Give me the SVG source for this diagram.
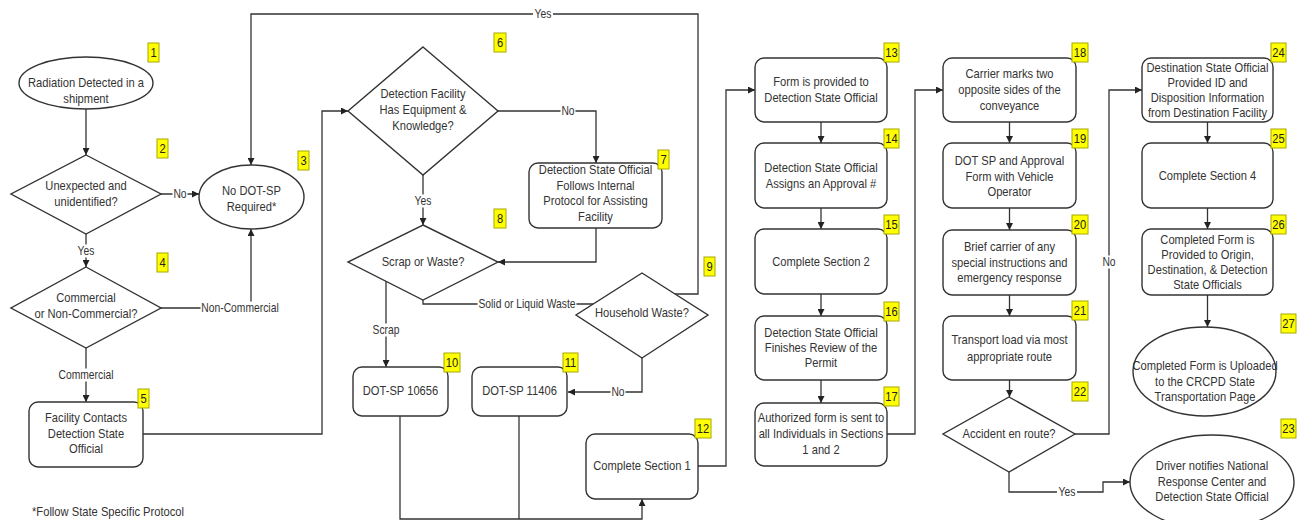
<svg xmlns="http://www.w3.org/2000/svg" width="1303" height="520" viewBox="0 0 1303 520">
<defs>
<style>
.n{fill:#fff;stroke:#333;stroke-width:1.4}
.e{fill:none;stroke:#333;stroke-width:1.3}
.t{font-family:"Liberation Sans",Arial,sans-serif;font-size:13px;fill:#333;text-anchor:middle}
.l{font-family:"Liberation Sans",Arial,sans-serif;font-size:12px;fill:#333;text-anchor:middle}
.lb{fill:#fff;stroke:none}
.b{fill:#ffff00;stroke:#a8a800;stroke-width:1}
.bt{font-family:"Liberation Sans",Arial,sans-serif;font-size:13px;fill:#222;text-anchor:middle}
</style>
<marker id="a" viewBox="0 0 10 10" refX="10" refY="5" markerWidth="7" markerHeight="7" markerUnits="userSpaceOnUse" orient="auto"><path d="M0,0 L10,5 L0,10 z" fill="#222"/></marker>
</defs>
<rect width="1303" height="520" fill="#fff"/>

<g id="connectors">
<path class="e" d="M86,109 V155" marker-end="url(#a)"/>
<path class="e" d="M161,194 H199" marker-end="url(#a)"/>
<path class="e" d="M86,234 V267" marker-end="url(#a)"/>
<path class="e" d="M161,308 H251 V229" marker-end="url(#a)"/>
<path class="e" d="M86,348 V402" marker-end="url(#a)"/>
<path class="e" d="M143,434 H322 V111 H348" marker-end="url(#a)"/>
<path class="e" d="M498,111 H596 V163" marker-end="url(#a)"/>
<path class="e" d="M423,175 V225" marker-end="url(#a)"/>
<path class="e" d="M596,228 V262 H498" marker-end="url(#a)"/>
<path class="e" d="M386,281 V367" marker-end="url(#a)"/>
<path class="e" d="M423,300 V304 H593"/>
<path class="e" d="M675,294 H698 V14 H251 V165" marker-end="url(#a)"/>
<path class="e" d="M642,358 V392 H568" marker-end="url(#a)"/>
<path class="e" d="M400,416 V519 H642 V499" marker-end="url(#a)"/>
<path class="e" d="M519,416 V519"/>
<path class="e" d="M698,466 H726 V90 H755" marker-end="url(#a)"/>
<path class="e" d="M821,122 V143" marker-end="url(#a)"/>
<path class="e" d="M821,208 V229" marker-end="url(#a)"/>
<path class="e" d="M821,294 V316" marker-end="url(#a)"/>
<path class="e" d="M821,380 V403" marker-end="url(#a)"/>
<path class="e" d="M887,434 H915 V90 H943" marker-end="url(#a)"/>
<path class="e" d="M1009.5,122 V143" marker-end="url(#a)"/>
<path class="e" d="M1009.5,208 V230" marker-end="url(#a)"/>
<path class="e" d="M1009.5,295 V316" marker-end="url(#a)"/>
<path class="e" d="M1009.5,380 V397" marker-end="url(#a)"/>
<path class="e" d="M1075,434 H1109 V90 H1142" marker-end="url(#a)"/>
<path class="e" d="M1009,472 V492 H1103 V482 H1130" marker-end="url(#a)"/>
<path class="e" d="M1207.5,122 V143" marker-end="url(#a)"/>
<path class="e" d="M1207.5,208 V229" marker-end="url(#a)"/>
<path class="e" d="M1207.5,295 V327" marker-end="url(#a)"/>
<rect class="lb" x="172.5" y="187.5" width="15" height="13"/><text class="l" transform="translate(180 0) scale(.86 1)" x="0" y="198">No</text>
<rect class="lb" x="76" y="244.5" width="20" height="13"/><text class="l" transform="translate(86 0) scale(.86 1)" x="0" y="255">Yes</text>
<rect class="lb" x="200.5" y="301.5" width="79" height="13"/><text class="l" transform="translate(240 0) scale(.86 1)" x="0" y="312">Non-Commercial</text>
<rect class="lb" x="57.5" y="368.5" width="57" height="13"/><text class="l" transform="translate(86 0) scale(.86 1)" x="0" y="379">Commercial</text>
<rect class="lb" x="533" y="7.5" width="20" height="13"/><text class="l" transform="translate(543 0) scale(.86 1)" x="0" y="18">Yes</text>
<rect class="lb" x="560.5" y="104.5" width="15" height="13"/><text class="l" transform="translate(568 0) scale(.86 1)" x="0" y="115">No</text>
<rect class="lb" x="413" y="194.5" width="20" height="13"/><text class="l" transform="translate(423 0) scale(.86 1)" x="0" y="205">Yes</text>
<rect class="lb" x="371.5" y="323.5" width="29" height="13"/><text class="l" transform="translate(386 0) scale(.86 1)" x="0" y="334">Scrap</text>
<rect class="lb" x="477.5" y="297.5" width="99" height="13"/><text class="l" transform="translate(527 0) scale(.86 1)" x="0" y="308">Solid or Liquid Waste</text>
<rect class="lb" x="610.5" y="385.5" width="15" height="13"/><text class="l" transform="translate(618 0) scale(.86 1)" x="0" y="396">No</text>
<rect class="lb" x="1101.5" y="255.5" width="15" height="13"/><text class="l" transform="translate(1109 0) scale(.86 1)" x="0" y="266">No</text>
<rect class="lb" x="1057" y="485.5" width="20" height="13"/><text class="l" transform="translate(1067 0) scale(.86 1)" x="0" y="496">Yes</text>
</g>

<g id="n1"><ellipse class="n" cx="86" cy="83" rx="67" ry="26"/>
<text class="t" transform="translate(86 0) scale(.86 1)"><tspan x="0" y="87.5">Radiation Detected in a</tspan><tspan x="0" y="103.5">shipment</tspan></text>
<rect class="b" x="148" y="43" width="11" height="19"/><text class="bt" transform="translate(153.5 0) scale(.86 1)" x="0" y="57">1</text></g>

<g id="n2"><polygon class="n" points="86,155 161,194 86,234 11,194"/>
<text class="t" transform="translate(86 0) scale(.86 1)"><tspan x="0" y="190">Unexpected and</tspan><tspan x="0" y="206.5">unidentified?</tspan></text>
<rect class="b" x="157" y="139" width="11" height="19"/><text class="bt" transform="translate(162.5 0) scale(.86 1)" x="0" y="153">2</text></g>

<g id="n3"><ellipse class="n" cx="251.5" cy="197" rx="52.5" ry="32"/>
<text class="t" transform="translate(251.5 0) scale(.86 1)"><tspan x="0" y="195.5">No DOT-SP</tspan><tspan x="0" y="211.5">Required*</tspan></text>
<rect class="b" x="298" y="151" width="11" height="19"/><text class="bt" transform="translate(303.5 0) scale(.86 1)" x="0" y="165">3</text></g>

<g id="n4"><polygon class="n" points="86,267 161,308 86,348 11,308"/>
<text class="t" transform="translate(86 0) scale(.86 1)"><tspan x="0" y="302">Commercial</tspan><tspan x="0" y="318">or Non-Commercial?</tspan></text>
<rect class="b" x="157" y="253" width="11" height="19"/><text class="bt" transform="translate(162.5 0) scale(.86 1)" x="0" y="267">4</text></g>

<g id="n5"><rect class="n" x="29" y="402" width="114" height="65" rx="9"/>
<text class="t" transform="translate(86 0) scale(.86 1)"><tspan x="0" y="422.5">Facility Contacts</tspan><tspan x="0" y="438.5">Detection State</tspan><tspan x="0" y="453.5">Official</tspan></text>
<rect class="b" x="138" y="389" width="11" height="19"/><text class="bt" transform="translate(143.5 0) scale(.86 1)" x="0" y="403">5</text></g>

<g id="n6"><polygon class="n" points="423,47 498,111 423,175 348,111"/>
<text class="t" transform="translate(423 0) scale(.86 1)"><tspan x="0" y="98.5">Detection Facility</tspan><tspan x="0" y="114.5">Has Equipment &amp;</tspan><tspan x="0" y="130.5">Knowledge?</tspan></text>
<rect class="b" x="494" y="33" width="12" height="19"/><text class="bt" transform="translate(500 0) scale(.86 1)" x="0" y="47">6</text></g>

<g id="n7"><rect class="n" x="529" y="163" width="133" height="65" rx="9"/>
<text class="t" transform="translate(595.5 0) scale(.86 1)"><tspan x="0" y="174.5">Detection State Official</tspan><tspan x="0" y="190">Follows Internal</tspan><tspan x="0" y="205.5">Protocol for Assisting</tspan><tspan x="0" y="221">Facility</tspan></text>
<rect class="b" x="658" y="150" width="11" height="19"/><text class="bt" transform="translate(663.5 0) scale(.86 1)" x="0" y="164">7</text></g>

<g id="n8"><polygon class="n" points="423,225 498,262 423,300 348,262"/>
<text class="t" transform="translate(423 0) scale(.86 1)" x="0" y="266.5">Scrap or Waste?</text>
<rect class="b" x="494" y="209" width="12" height="19"/><text class="bt" transform="translate(500 0) scale(.86 1)" x="0" y="223">8</text></g>

<g id="n9"><polygon class="n" points="642,273 708,315 642,358 576,315"/>
<text class="t" transform="translate(642 0) scale(.86 1)" x="0" y="317.5">Household Waste?</text>
<rect class="b" x="704" y="257" width="11" height="19"/><text class="bt" transform="translate(709.5 0) scale(.86 1)" x="0" y="271">9</text></g>

<g id="n10"><rect class="n" x="353" y="367" width="95" height="49" rx="9"/>
<text class="t" transform="translate(400.5 0) scale(.86 1)" x="0" y="395.5">DOT-SP 10656</text>
<rect class="b" x="444" y="353" width="16" height="19"/><text class="bt" transform="translate(452 0) scale(.86 1)" x="0" y="367">10</text></g>

<g id="n11"><rect class="n" x="472" y="367" width="95" height="49" rx="9"/>
<text class="t" transform="translate(519.5 0) scale(.86 1)" x="0" y="395.5">DOT-SP 11406</text>
<rect class="b" x="563" y="353" width="15" height="19"/><text class="bt" transform="translate(570.5 0) scale(.86 1)" x="0" y="367">11</text></g>

<g id="n12"><rect class="n" x="586" y="434" width="112" height="65" rx="9"/>
<text class="t" transform="translate(642 0) scale(.86 1)" x="0" y="470.5">Complete Section 1</text>
<rect class="b" x="695" y="419" width="16" height="19"/><text class="bt" transform="translate(703 0) scale(.86 1)" x="0" y="433">12</text></g>

<g id="n13"><rect class="n" x="755" y="58" width="132" height="64" rx="9"/>
<text class="t" transform="translate(821 0) scale(.86 1)"><tspan x="0" y="86.5">Form is provided to</tspan><tspan x="0" y="102.5">Detection State Official</tspan></text>
<rect class="b" x="884" y="43" width="15" height="19"/><text class="bt" transform="translate(891.5 0) scale(.86 1)" x="0" y="57">13</text></g>

<g id="n14"><rect class="n" x="755" y="143" width="132" height="65" rx="9"/>
<text class="t" transform="translate(821 0) scale(.86 1)"><tspan x="0" y="172.5">Detection State Official</tspan><tspan x="0" y="188.5">Assigns an Approval #</tspan></text>
<rect class="b" x="884" y="129" width="15" height="19"/><text class="bt" transform="translate(891.5 0) scale(.86 1)" x="0" y="143">14</text></g>

<g id="n15"><rect class="n" x="755" y="229" width="132" height="65" rx="9"/>
<text class="t" transform="translate(821 0) scale(.86 1)" x="0" y="266">Complete Section 2</text>
<rect class="b" x="884" y="215" width="15" height="19"/><text class="bt" transform="translate(891.5 0) scale(.86 1)" x="0" y="229">15</text></g>

<g id="n16"><rect class="n" x="755" y="316" width="132" height="64" rx="9"/>
<text class="t" transform="translate(821 0) scale(.86 1)"><tspan x="0" y="337.5">Detection State Official</tspan><tspan x="0" y="352.5">Finishes Review of the</tspan><tspan x="0" y="367.5">Permit</tspan></text>
<rect class="b" x="884" y="302" width="15" height="19"/><text class="bt" transform="translate(891.5 0) scale(.86 1)" x="0" y="316">16</text></g>

<g id="n17"><rect class="n" x="755" y="403" width="132" height="63" rx="9"/>
<text class="t" transform="translate(821 0) scale(.86 1)"><tspan x="0" y="422.5">Authorized form is sent to</tspan><tspan x="0" y="438.5">all Individuals in Sections</tspan><tspan x="0" y="454.5">1 and 2</tspan></text>
<rect class="b" x="884" y="387" width="15" height="19"/><text class="bt" transform="translate(891.5 0) scale(.86 1)" x="0" y="401">17</text></g>

<g id="n18"><rect class="n" x="943" y="58" width="133" height="64" rx="9"/>
<text class="t" transform="translate(1009.5 0) scale(.86 1)"><tspan x="0" y="78.5">Carrier marks two</tspan><tspan x="0" y="94.5">opposite sides of the</tspan><tspan x="0" y="110.5">conveyance</tspan></text>
<rect class="b" x="1072" y="43" width="16" height="19"/><text class="bt" transform="translate(1080 0) scale(.86 1)" x="0" y="57">18</text></g>

<g id="n19"><rect class="n" x="943" y="143" width="133" height="65" rx="9"/>
<text class="t" transform="translate(1009.5 0) scale(.86 1)"><tspan x="0" y="165.5">DOT SP and Approval</tspan><tspan x="0" y="181.5">Form with Vehicle</tspan><tspan x="0" y="196.5">Operator</tspan></text>
<rect class="b" x="1072" y="129" width="16" height="19"/><text class="bt" transform="translate(1080 0) scale(.86 1)" x="0" y="143">19</text></g>

<g id="n20"><rect class="n" x="943" y="230" width="133" height="65" rx="9"/>
<text class="t" transform="translate(1009.5 0) scale(.86 1)"><tspan x="0" y="251.5">Brief carrier of any</tspan><tspan x="0" y="267.5">special instructions and</tspan><tspan x="0" y="282.5">emergency response</tspan></text>
<rect class="b" x="1072" y="215" width="16" height="19"/><text class="bt" transform="translate(1080 0) scale(.86 1)" x="0" y="229">20</text></g>

<g id="n21"><rect class="n" x="943" y="316" width="133" height="64" rx="9"/>
<text class="t" transform="translate(1009.5 0) scale(.86 1)"><tspan x="0" y="344.5">Transport load via most</tspan><tspan x="0" y="361">appropriate route</tspan></text>
<rect class="b" x="1072" y="301" width="16" height="19"/><text class="bt" transform="translate(1080 0) scale(.86 1)" x="0" y="315">21</text></g>

<g id="n22"><polygon class="n" points="1009,397 1075,434 1009,472 943,434"/>
<text class="t" transform="translate(1009 0) scale(.86 1)" x="0" y="438.5">Accident en route?</text>
<rect class="b" x="1072" y="382" width="16" height="19"/><text class="bt" transform="translate(1080 0) scale(.86 1)" x="0" y="396">22</text></g>

<g id="n23"><ellipse class="n" cx="1212" cy="482" rx="82" ry="47"/>
<text class="t" transform="translate(1212 0) scale(.86 1)"><tspan x="0" y="470.5">Driver notifies National</tspan><tspan x="0" y="486.5">Response Center and</tspan><tspan x="0" y="501.5">Detection State Official</tspan></text>
<rect class="b" x="1281" y="419" width="15" height="19"/><text class="bt" transform="translate(1288.5 0) scale(.86 1)" x="0" y="433">23</text></g>

<g id="n24"><rect class="n" x="1142" y="58" width="131" height="64" rx="9"/>
<text class="t" transform="translate(1207.5 0) scale(.86 1)"><tspan x="0" y="72.5">Destination State Official</tspan><tspan x="0" y="87.5">Provided ID and</tspan><tspan x="0" y="102.5">Disposition Information</tspan><tspan x="0" y="117.5">from Destination Facility</tspan></text>
<rect class="b" x="1271" y="43" width="15" height="19"/><text class="bt" transform="translate(1278.5 0) scale(.86 1)" x="0" y="57">24</text></g>

<g id="n25"><rect class="n" x="1142" y="143" width="131" height="65" rx="9"/>
<text class="t" transform="translate(1207.5 0) scale(.86 1)" x="0" y="180.5">Complete Section 4</text>
<rect class="b" x="1271" y="129" width="15" height="19"/><text class="bt" transform="translate(1278.5 0) scale(.86 1)" x="0" y="143">25</text></g>

<g id="n26"><rect class="n" x="1142" y="229" width="131" height="66" rx="9"/>
<text class="t" transform="translate(1207.5 0) scale(.86 1)"><tspan x="0" y="244.5">Completed Form is</tspan><tspan x="0" y="259.5">Provided to Origin,</tspan><tspan x="0" y="274.5">Destination, &amp; Detection</tspan><tspan x="0" y="289.5">State Officials</tspan></text>
<rect class="b" x="1271" y="215" width="15" height="19"/><text class="bt" transform="translate(1278.5 0) scale(.86 1)" x="0" y="229">26</text></g>

<g id="n27"><ellipse class="n" cx="1204.5" cy="371.5" rx="71.5" ry="44.5"/>
<text class="t" transform="translate(1205 0) scale(.86 1)"><tspan x="0" y="370.5">Completed Form is Uploaded</tspan><tspan x="0" y="386.5">to the CRCPD State</tspan><tspan x="0" y="401.5">Transportation Page</tspan></text>
<rect class="b" x="1281" y="314" width="15" height="19"/><text class="bt" transform="translate(1288.5 0) scale(.86 1)" x="0" y="328">27</text></g>

<g id="footnote"><text class="t" style="text-anchor:start" transform="translate(32 0) scale(.86 1)" x="0" y="516.5">*Follow State Specific Protocol</text></g>
</svg>
